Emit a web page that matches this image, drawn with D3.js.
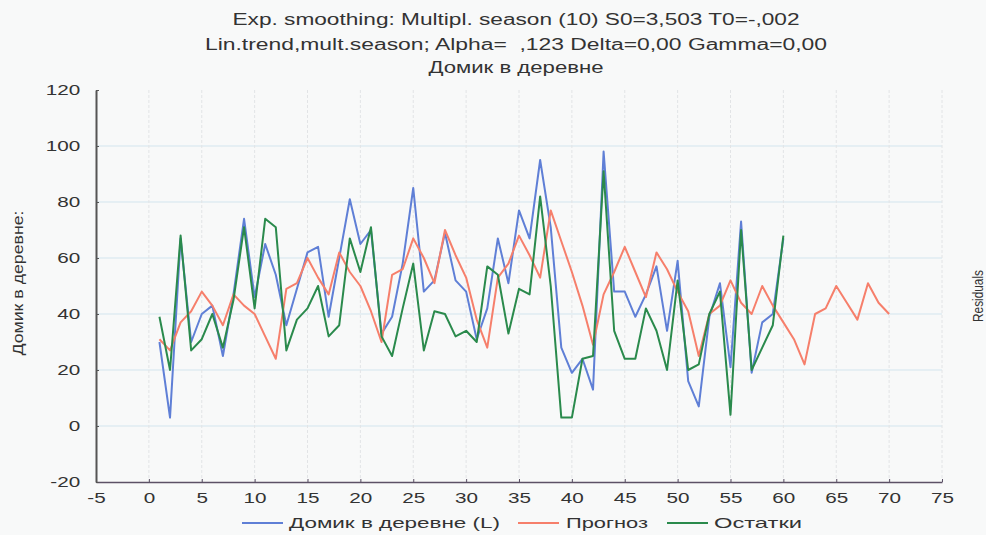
<!DOCTYPE html>
<html>
<head>
<meta charset="utf-8">
<script src="https://cdn.jsdelivr.net/npm/d3@7"></script>
<style>
  body { margin: 0; background: #f8f9f9; }
  text { font-family: "Liberation Sans", Arial, sans-serif; fill: #333; }
</style>
</head>
<body>
<div id="chart"></div>
<script>
// values
var observed = [30, 3, 67, 30, 40, 43, 25, 47, 74, 46,
                65, 54, 36, 49, 62, 64, 39, 60, 81, 65,
                70, 33, 39, 58, 85, 48, 52, 69, 52, 48,
                31, 42, 67, 51, 77, 67, 95, 71, 28, 19,
                24, 13, 98, 48, 48, 39, 47, 57, 34, 59,
                16, 7, 39, 51, 21, 73, 19, 37, 40, 67];
var forecast = [31, 27, 37, 41, 48, 43, 36, 47, 43, 40,
                32, 24, 49, 51, 60, 53, 47, 62, 55, 50,
                41, 30, 54, 56, 67, 60, 51, 70, 61, 53,
                38, 28, 53, 58, 68, 61, 53, 77, 66, 55,
                43, 29, 47, 55, 64, 55, 46, 62, 56, 48,
                41, 25, 40, 43, 52, 44, 40, 50, 43, 37,
                31, 22, 40, 42, 50, 44, 38, 51, 44, 40];
var residuals = [39, 20, 68, 27, 31, 40, 28, 45, 71, 42,
                 74, 71, 27, 38, 42, 50, 32, 36, 67, 55,
                 71, 32, 25, 42, 58, 27, 41, 40, 32, 34,
                 30, 57, 54, 33, 49, 47, 82, 50, 3, 3,
                 24, 25, 91, 34, 24, 24, 42, 34, 20, 52,
                 20, 22, 40, 48, 4, 70, 20, 28, 36, 68];
var xTicks = [-5, 0, 5, 10, 15, 20, 25, 30, 35, 40, 45, 50, 55, 60, 65, 70, 75];
var yTicks = [-20, 0, 20, 40, 60, 80, 100, 120];
var titles = ["Exp. smoothing: Multipl. season (10) S0=3,503 T0=-,002",
              "Lin.trend,mult.season; Alpha=  ,123 Delta=0,00 Gamma=0,00",
              "Домик в деревне"];
var seriesNames = ["Домик в деревне (L)", "Прогноз", "Остатки"];

var margin = {top: 90, right: 44, bottom: 53, left: 96},
    width = 986 - margin.left - margin.right,
    height = 535 - margin.top - margin.bottom;

var SX = 1.38; // the scan is stretched sideways

var root = d3.select("#chart").append("svg")
    .attr("width", 986)
    .attr("height", 535);

var svg = root.append("g")
    .attr("transform", "translate(" + margin.left + "," + margin.top + ")");

var x = d3.scaleLinear().domain([-5, 75]).range([0, width]),
    y = d3.scaleLinear().domain([-20, 120]).range([height, 0]);

var colors = ["#5f7fd6", "#f67f6b", "#2a8a4c"];
var fmt = function(d) { return String(d); };

// grid
svg.append("g")
  .selectAll("line")
  .data(yTicks.filter(function(d) { return d > -20 && d < 120; }))
  .enter().append("line")
    .attr("x1", 0).attr("x2", width)
    .attr("y1", function(d) { return y(d); })
    .attr("y2", function(d) { return y(d); })
    .attr("stroke", "#d3e5ee")
    .attr("stroke-width", 1);

svg.append("g")
  .selectAll("line")
  .data(xTicks.filter(function(d) { return d > -5; }))
  .enter().append("line")
    .attr("x1", function(d) { return x(d); })
    .attr("x2", function(d) { return x(d); })
    .attr("y1", 0).attr("y2", height)
    .attr("stroke", "#e2e4e6")
    .attr("stroke-dasharray", "3,2")
    .attr("stroke-width", 1);

// axes
var xAxis = svg.append("g")
    .attr("transform", "translate(0," + height + ")")
    .call(d3.axisBottom(x).tickValues(xTicks).tickFormat(fmt).tickSize(-3).tickPadding(10).tickSizeOuter(0));
xAxis.select(".domain").attr("stroke", "#5c5166").attr("stroke-width", 1.5);
xAxis.selectAll(".tick line").attr("stroke", "#5c5166");
xAxis.selectAll("text")
    .style("font-size", "15px")
    .attr("fill", "#333")
    .attr("transform", "scale(" + SX + ",1)");

var yAxis = svg.append("g")
    .call(d3.axisLeft(y).tickValues(yTicks).tickFormat(fmt).tickSize(-3).tickPadding(11.5).tickSizeOuter(0));
yAxis.select(".domain").attr("stroke", "#555").attr("stroke-width", 2);
yAxis.selectAll(".tick line").attr("stroke", "#555");
yAxis.selectAll("text")
    .style("font-size", "15px")
    .attr("fill", "#333")
    .attr("transform", "scale(" + SX + ",1)");

// lines
var line = d3.line()
    .x(function(d, i) { return x(i + 1); })
    .y(function(d) { return y(d); });

[observed, forecast, residuals].forEach(function(s, k) {
  svg.append("path")
    .datum(s)
    .attr("fill", "none")
    .attr("stroke", colors[k])
    .attr("stroke-width", 2)
    .attr("stroke-linejoin", "round")
    .attr("d", line);
});

// titles
var titleY = [25, 50, 73],
    titleW = [567, 622, 175];
root.selectAll(".title")
  .data(titles)
  .enter().append("text")
    .attr("class", "title")
    .attr("x", 516)
    .attr("y", function(d, i) { return titleY[i]; })
    .attr("text-anchor", "middle")
    .attr("textLength", function(d, i) { return titleW[i]; })
    .attr("lengthAdjust", "spacingAndGlyphs")
    .style("font-size", "16px")
    .style("white-space", "pre")
    .text(function(d) { return d; });

// axis titles
root.append("text")
    .attr("transform", "translate(18,283) rotate(-90)")
    .attr("text-anchor", "middle")
    .attr("dy", "0.35em")
    .attr("textLength", 145)
    .attr("lengthAdjust", "spacingAndGlyphs")
    .style("font-size", "15px")
    .text("Домик в деревне:");

root.append("text")
    .attr("transform", "translate(978,296) rotate(-90)")
    .attr("text-anchor", "middle")
    .attr("dy", "0.35em")
    .attr("textLength", 52)
    .attr("lengthAdjust", "spacingAndGlyphs")
    .style("font-size", "15px")
    .text("Residuals");

// legend
var legX = [242, 518, 667],
    legTextX = [289, 566, 714],
    legW = [211, 82, 88];
var leg = root.append("g");
seriesNames.forEach(function(n, i) {
  leg.append("line")
    .attr("x1", legX[i]).attr("x2", legX[i] + 41)
    .attr("y1", 523).attr("y2", 523)
    .attr("stroke", colors[i])
    .attr("stroke-width", 2);
  leg.append("text")
    .attr("x", legTextX[i])
    .attr("y", 528)
    .attr("textLength", legW[i])
    .attr("lengthAdjust", "spacingAndGlyphs")
    .style("font-size", "15px")
    .text(n);
});
</script>
</body>
</html>
